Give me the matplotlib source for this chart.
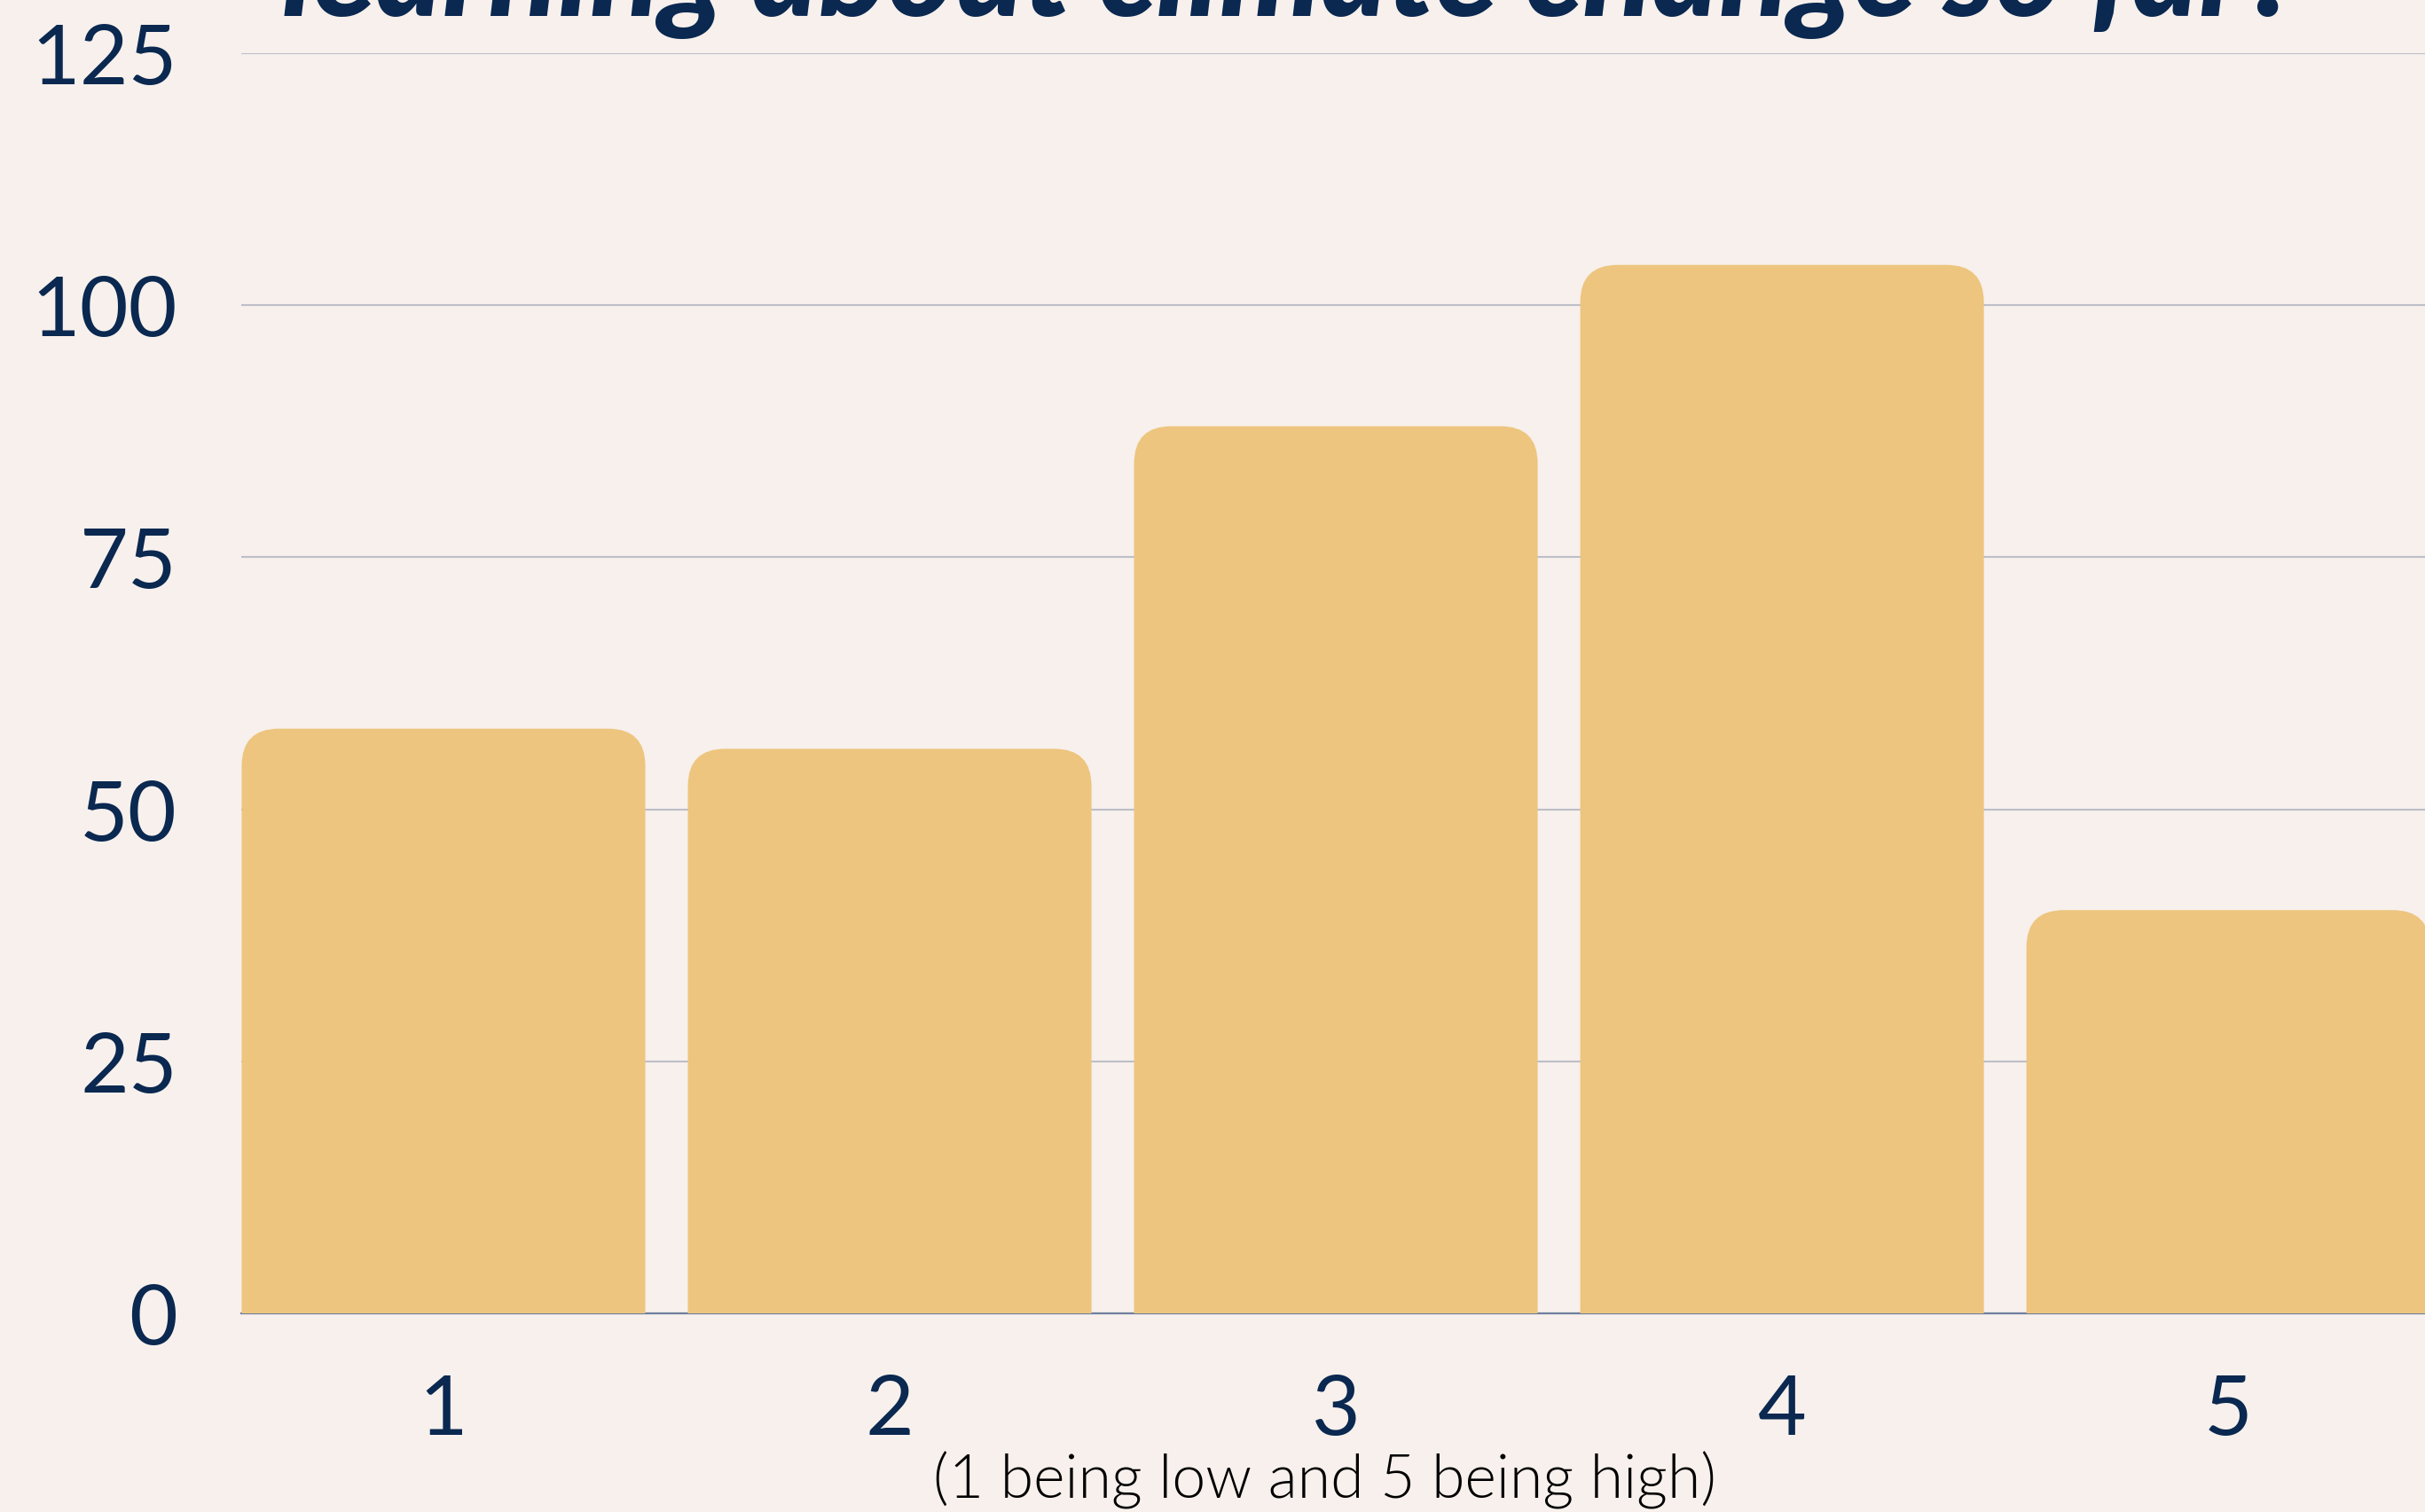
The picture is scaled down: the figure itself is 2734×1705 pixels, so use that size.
import matplotlib
matplotlib.use('Agg')
import matplotlib.pyplot as plt
from matplotlib.patches import FancyBboxPatch

# data
ratings = [1, 2, 3, 4, 5]
counts = [58, 56, 88, 104, 40]
y_ticks = [0, 25, 50, 75, 100, 125]
title_line = "learning about climate change so far?"
x_note = "(1 being low and 5 being high)"

bg = '#F7F0EC'
bar_col = '#EDC57E'
navy = '#0A2850'

plt.rcParams['font.family'] = ['Lato', 'DejaVu Sans']

fig = plt.figure(figsize=(27.34, 17.06), dpi=100, facecolor=bg)
ax = fig.add_axes([272/2734, 1 - 1482/1706, 1 - 272/2734, (1482 - 61)/1706])
ax.set_facecolor(bg)

ax.set_xlim(0.5467, 5.441)
ax.set_ylim(0, 125)

# rounded top corners: radius in pixels turned into data units on each axis
bw = 0.9046
rad_px = 42
fig.canvas.draw()
p0 = ax.transData.transform((0, 0))
p1 = ax.transData.transform((1, 1))
rx = rad_px / (p1[0] - p0[0])
ry = rad_px / (p1[1] - p0[1])

for x, v in zip(ratings, counts):
    patch = FancyBboxPatch((x - bw/2, -ry), bw, v + ry,
                           boxstyle="round,pad=0,rounding_size=%f" % rx,
                           mutation_aspect=ry/rx,
                           facecolor=bar_col, edgecolor='none', zorder=3)
    ax.add_patch(patch)

ax.set_yticks(y_ticks)
ax.set_xticks(ratings)
ax.set_xticklabels([str(r) for r in ratings])
ax.grid(axis='y', color='#BDBEC8', linewidth=1.5, zorder=0)
ax.grid(axis='x', visible=False)
ax.set_axisbelow(True)
ax.axhline(0, color='#6E7F9E', linewidth=1.6, zorder=2, clip_on=False)

for s in ax.spines.values():
    s.set_visible(False)
ax.tick_params(axis='y', length=0, pad=52, labelsize=68, labelcolor=navy)
ax.tick_params(axis='x', length=0, pad=49, labelsize=68, labelcolor=navy)

fig.text(318/2734, 1 - 18/1706, title_line, ha='left', va='baseline',
         fontsize=103.5, fontweight='black', fontstyle='italic', color=navy)
fig.text(1494/2734, 1 - 1690/1706, x_note, ha='center', va='baseline',
         fontsize=49, fontweight=300, color='#000000')

fig.savefig('out.png', dpi=100, facecolor=bg)
